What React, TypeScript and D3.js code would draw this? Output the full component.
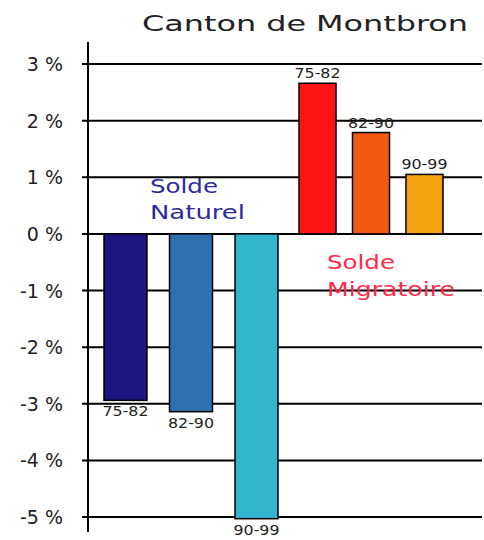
import React from "react";
import * as d3 from "d3";

const groups = ["Naturel", "Migratoire"];
const periods = ["75-82", "82-90", "90-99"];
const naturelValues = [-2.94, -3.14, -5.03];
const migratoireValues = [2.66, 1.79, 1.05];
const naturelColors = ["#1e1580", "#2e70b0", "#33b5cc"];
const migratoireColors = ["#ff1414", "#f25a14", "#f5a00f"];
const yTicks = [3, 2, 1, 0, -1, -2, -3, -4, -5];
const title = "Canton de Montbron";
const naturelLabel = ["Solde", "Naturel"];
const migratoireLabel = ["Solde", "Migratoire"];

const W = 484;
const H = 540;
const FONT = "'DejaVu Sans', sans-serif";

export default function App() {
  const y = d3.scaleLinear().domain([-5, 3]).range([517, 64]);
  const xN = d3.scaleBand<string>().domain(periods).range([104, 278]).paddingInner(0.344).paddingOuter(0);
  const xM = d3.scaleBand<string>().domain(periods).range([299, 443]).paddingInner(0.308).paddingOuter(0);

  const series = [
    { g: groups[0], x: xN, values: naturelValues, colors: naturelColors },
    { g: groups[1], x: xM, values: migratoireValues, colors: migratoireColors },
  ];

  return (
    <svg
      width={W}
      height={H}
      style={{ position: "absolute", left: 0, top: 0, background: "#fff" }}
      fontFamily={FONT}
    >
      <rect x={0} y={0} width={W} height={H} fill="#fff" />
      <text x={305} y={31} textAnchor="middle" fontSize={22} textLength={326} lengthAdjust="spacingAndGlyphs" fill="#222">
        {title}
      </text>
      {yTicks.map((t) => (
        <g key={t}>
          <line x1={82} x2={482} y1={y(t)} y2={y(t)} stroke="#000" strokeWidth={2} />
          <text x={63} y={y(t) + 7} textAnchor="end" fontSize={19} fill="#222">
            {`${t} %`}
          </text>
        </g>
      ))}
      <line x1={88} x2={88} y1={42} y2={532} stroke="#000" strokeWidth={2} />
      {series.map((s) =>
        periods.map((p, i) => {
          const v = s.values[i];
          const y0 = y(Math.max(0, v));
          const y1 = y(Math.min(0, v));
          const bw = s.x.bandwidth();
          const cx = (s.x(p) as number) + bw / 2;
          return (
            <g key={s.g + p}>
              <rect
                x={s.x(p)}
                y={y0}
                width={bw}
                height={y1 - y0}
                fill={s.colors[i]}
                stroke="#000"
                strokeWidth={1.5}
              />
              <text
                x={cx}
                y={v < 0 ? y1 + 16 : y0 - 5}
                textAnchor="middle"
                fontSize={14}
                textLength={46}
                lengthAdjust="spacingAndGlyphs"
                fill="#222"
              >
                {p}
              </text>
            </g>
          );
        })
      )}
      <text x={150} y={193} fontSize={19} fill="#2b2a9a" textLength={68} lengthAdjust="spacingAndGlyphs">
        {naturelLabel[0]}
      </text>
      <text x={150} y={219} fontSize={19} fill="#2b2a9a" textLength={95} lengthAdjust="spacingAndGlyphs">
        {naturelLabel[1]}
      </text>
      <text x={327} y={269} fontSize={19} fill="#ff2a4a" textLength={68} lengthAdjust="spacingAndGlyphs">
        {migratoireLabel[0]}
      </text>
      <text x={327} y={296} fontSize={19} fill="#ff2a4a" textLength={128} lengthAdjust="spacingAndGlyphs">
        {migratoireLabel[1]}
      </text>
    </svg>
  );
}
